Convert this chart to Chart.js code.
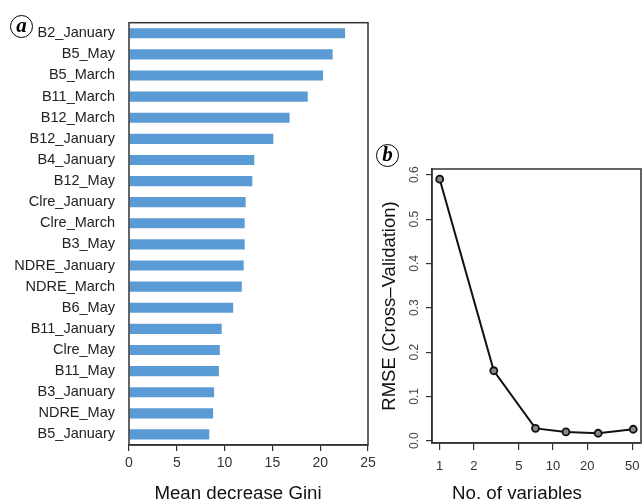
<!DOCTYPE html>
<html>
<head>
<meta charset="utf-8">
<script src="https://cdn.jsdelivr.net/npm/chart.js@4.4.0/dist/chart.umd.min.js"></script>
<style>
  html, body { margin: 0; padding: 0; background: #fff; }
  body { width: 643px; height: 499px; position: relative; overflow: hidden; }
  canvas { position: absolute; top: 0; }
  #chart-a { left: 0; }
  #chart-b { left: 370px; }
  .tag {
    position: absolute; width: 21px; height: 21px;
    border: 1.5px solid #000; border-radius: 50%;
    font: italic bold 21px 'Liberation Serif', serif;
    text-align: center; line-height: 19px; color: #000;
  }
  .xtitle {
    position: absolute; top: 483px; transform: translateX(-50%);
    font: 18.7px/20px 'Liberation Sans', Arial, sans-serif; color: #111; white-space: nowrap;
  }
</style>
</head>
<body>
<canvas id="chart-a" width="380" height="499"></canvas>
<canvas id="chart-b" width="273" height="499"></canvas>
<div class="tag" style="left:10px; top:15px;">a</div>
<div class="tag" style="left:376px; top:144px;">b</div>
<div class="xtitle" style="left:238px;">Mean decrease Gini</div>
<div class="xtitle" style="left:517px;">No. of variables</div>
<script>
// ── Defaults ─────────────────────────────────────────────────────────────────
Chart.defaults.font.family = "'Liberation Sans', Arial, sans-serif";
Chart.defaults.color = '#222';

// ── Data ─────────────────────────────────────────────────────────────────────
// (a) variable importance
const variables = [
  'B2_January', 'B5_May', 'B5_March', 'B11_March', 'B12_March', 'B12_January',
  'B4_January', 'B12_May', 'Clre_January', 'Clre_March', 'B3_May', 'NDRE_January',
  'NDRE_March', 'B6_May', 'B11_January', 'Clre_May', 'B11_May', 'B3_January',
  'NDRE_May', 'B5_January'
];
const giniValues = [
  22.6, 21.3, 20.3, 18.7, 16.8, 15.1,
  13.1, 12.9, 12.2, 12.1, 12.1, 12.0,
  11.8, 10.9, 9.7, 9.5, 9.4, 8.9,
  8.8, 8.4
];
const giniTicks = [0, 5, 10, 15, 20, 25];

// (b) RFE curve
const nVariables = [1, 3, 7, 13, 25, 51];
const rmseValues = [0.590, 0.158, 0.028, 0.020, 0.017, 0.026];
const nTicks     = [1, 2, 5, 10, 20, 50];
const rmseTicks  = [0.0, 0.1, 0.2, 0.3, 0.4, 0.5, 0.6];

// ── Helpers ──────────────────────────────────────────────────────────────────
// R-style frame round the plot region
const boxPlugin = {
  id: 'box',
  afterDraw(chart) {
    const {ctx, chartArea: a} = chart;
    ctx.save();
    ctx.strokeStyle = '#333';
    ctx.lineWidth = 1.5;
    ctx.strokeRect(a.left, a.top, a.right - a.left, a.bottom - a.top);
    ctx.restore();
  }
};

const axisGrid = (len) => ({ display: true, drawOnChartArea: false, drawTicks: true, tickLength: len, color: '#333', lineWidth: 1.2 });

// ── (a) Mean decrease Gini ───────────────────────────────────────────────────
new Chart(document.getElementById('chart-a'), {
  type: 'bar',
  data: {
    labels: variables,
    datasets: [{ data: giniValues, backgroundColor: '#5b9bd5', categoryPercentage: 1, barPercentage: 0.48 }],
  },
  options: {
    indexAxis: 'y',
    animation: false,
    responsive: false,
    layout: { autoPadding: false, padding: { top: 18, right: 12, left: 0, bottom: 0 } },
    plugins: { legend: { display: false }, tooltip: { enabled: false } },
    scales: {
      x: {
        min: 0, max: 25,
        afterBuildTicks(s) { s.ticks = giniTicks.map(v => ({ value: v })); },
        ticks: { font: { size: 14 }, color: '#333', padding: 4, maxRotation: 0 },
        grid: axisGrid(6),
        border: { display: true, color: '#333', width: 1.5 },
        afterFit(s) { s.height = 54; s.paddingLeft = 0; s.paddingRight = 0; },
      },
      y: {
        ticks: { font: { size: 14.5 }, color: '#222', padding: 14, autoSkip: false },
        grid: { display: false, drawTicks: false },
        border: { display: false },
        afterFit(s) { s.width = 129; },
      },
    },
  },
  plugins: [boxPlugin],
});

// ── (b) RMSE vs number of variables ──────────────────────────────────────────
new Chart(document.getElementById('chart-b'), {
  type: 'line',
  data: {
    datasets: [{
      data: nVariables.map((n, i) => ({ x: n, y: rmseValues[i] })),
      borderColor: '#111', borderWidth: 2, tension: 0,
      pointRadius: 3.5, pointBorderWidth: 1.8, pointBorderColor: '#111', pointBackgroundColor: '#888',
    }],
  },
  options: {
    animation: false,
    responsive: false,
    layout: { autoPadding: false, padding: { top: 169, right: 2, left: 0, bottom: 0 } },
    plugins: { legend: { display: false }, tooltip: { enabled: false } },
    scales: {
      x: {
        type: 'logarithmic', min: 0.855, max: 59.7,
        afterBuildTicks(s) { s.ticks = nTicks.map(v => ({ value: v })); },
        ticks: { callback: v => String(v), autoSkip: false, maxRotation: 0, font: { size: 13 }, color: '#333', padding: 9 },
        grid: axisGrid(7),
        border: { display: true, color: '#333', width: 1.5 },
        afterFit(s) { s.height = 56; s.paddingLeft = 0; s.paddingRight = 0; },
      },
      y: {
        min: -0.005, max: 0.613,
        afterBuildTicks(s) { s.ticks = rmseTicks.map(v => ({ value: v })); },
        ticks: { callback: v => v.toFixed(1), minRotation: 90, maxRotation: 90, crossAlign: 'center', font: { size: 12 }, color: '#444', padding: 3 },
        grid: axisGrid(6),
        border: { display: true, color: '#333', width: 1.5 },
        title: { display: true, text: 'RMSE (Cross\u2013Validation)', color: '#111', font: { size: 18.5, lineHeight: 1 }, padding: { top: 11, bottom: 0 } },
        afterFit(s) { s.width = 62; s.paddingTop = 0; s.paddingBottom = 0; },
      },
    },
  },
  plugins: [boxPlugin],
});
</script>
</body>
</html>
